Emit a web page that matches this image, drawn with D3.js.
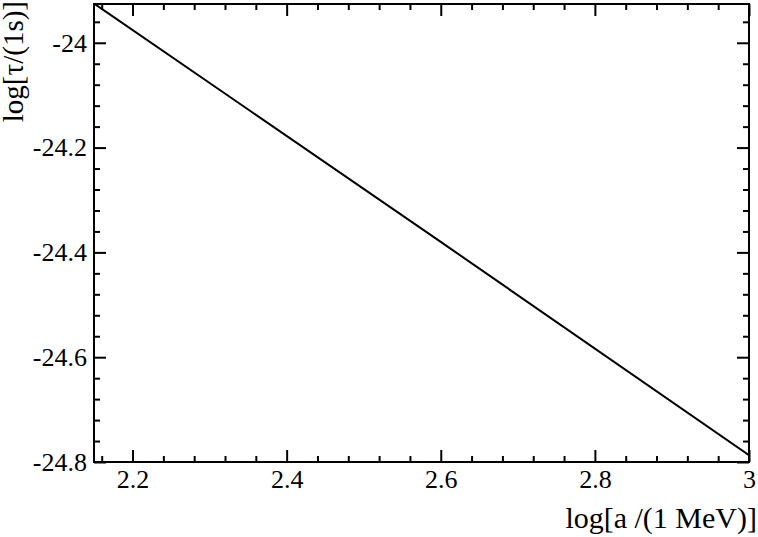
<!DOCTYPE html>
<html>
<head>
<meta charset="utf-8">
<script src="https://cdn.jsdelivr.net/npm/d3@7"></script>
<style>
  html, body { margin: 0; padding: 0; background: #fff; }
  svg { display: block; }
  text { font-family: "Liberation Serif", "Times New Roman", serif; fill: #000; }
</style>
</head>
<body>
<svg id="chart" width="758" height="537"></svg>
<script>
// Data
const xValues = [2.15, 2.6, 3.0];
const yValues = [-23.925, -24.38, -24.787];
const xMajorTicks = [2.2, 2.4, 2.6, 2.8, 3.0];
const xTickLabels = ["2.2", "2.4", "2.6", "2.8", "3"];
const yMajorTicks = [-24.8, -24.6, -24.4, -24.2, -24.0];
const yTickLabels = ["-24.8", "-24.6", "-24.4", "-24.2", "-24"];
const xMinorTicks = [2.16, 2.24, 2.28, 2.32, 2.36, 2.44, 2.48, 2.52, 2.56, 2.64, 2.68, 2.72, 2.76, 2.84, 2.88, 2.92, 2.96];
const yMinorTicks = [-24.76, -24.72, -24.68, -24.64, -24.56, -24.52, -24.48, -24.44, -24.36, -24.32, -24.28, -24.24, -24.16, -24.12, -24.08, -24.04, -23.96];
const xTitle = "log[a /(1 MeV)]";
const yTitle = "log[τ/(1s)]";

const W = 758, H = 537;
const margin = { left: 94, right: 9, top: 4, bottom: 75 };
const iw = W - margin.left - margin.right;
const ih = H - margin.top - margin.bottom;

const svg = d3.select("#chart");
const g = svg.append("g").attr("transform", `translate(${margin.left},${margin.top})`);

const xScale = d3.scaleLinear().domain([2.15, 3.0]).range([0, iw]);
const yScale = d3.scaleLinear().domain([-24.8, -23.926]).range([ih, 0]);

const majorLen = 12, minorLen = 6;

svg.append("defs").append("clipPath").attr("id", "clip")
  .append("rect").attr("width", iw).attr("height", ih);

// Bottom axis
g.append("g").attr("transform", `translate(0,${ih})`)
  .call(d3.axisBottom(xScale).tickValues(xMajorTicks)
    .tickFormat((d, i) => xTickLabels[i]).tickSizeInner(-majorLen).tickSizeOuter(0).tickPadding(8));
g.append("g").attr("transform", `translate(0,${ih})`)
  .call(d3.axisBottom(xScale).tickValues(xMinorTicks).tickFormat("").tickSizeInner(-minorLen).tickSizeOuter(0));
// Top axis
g.append("g")
  .call(d3.axisTop(xScale).tickValues(xMajorTicks).tickFormat("").tickSizeInner(-majorLen).tickSizeOuter(0));
g.append("g")
  .call(d3.axisTop(xScale).tickValues(xMinorTicks).tickFormat("").tickSizeInner(-minorLen).tickSizeOuter(0));
// Left axis
g.append("g")
  .call(d3.axisLeft(yScale).tickValues(yMajorTicks)
    .tickFormat((d, i) => yTickLabels[i]).tickSizeInner(-majorLen).tickSizeOuter(0).tickPadding(7));
g.append("g")
  .call(d3.axisLeft(yScale).tickValues(yMinorTicks).tickFormat("").tickSizeInner(-minorLen).tickSizeOuter(0));
// Right axis
g.append("g").attr("transform", `translate(${iw},0)`)
  .call(d3.axisRight(yScale).tickValues(yMajorTicks).tickFormat("").tickSizeInner(-majorLen).tickSizeOuter(0));
g.append("g").attr("transform", `translate(${iw},0)`)
  .call(d3.axisRight(yScale).tickValues(yMinorTicks).tickFormat("").tickSizeInner(-minorLen).tickSizeOuter(0));

g.selectAll(".domain").remove();
g.selectAll(".tick line").attr("stroke", "#000").attr("stroke-width", 2);
g.selectAll(".tick text")
  .style("font-family", "'Liberation Serif', 'Times New Roman', serif")
  .style("font-size", "26px").style("fill", "#000");

// Frame
g.append("rect").attr("x", 0).attr("y", 0).attr("width", iw).attr("height", ih)
  .attr("fill", "none").attr("stroke", "#000").attr("stroke-width", 2);

// Line
const lineGen = d3.line().x((d, i) => xScale(xValues[i])).y((d, i) => yScale(yValues[i]));
g.append("path").datum(xValues).attr("clip-path", "url(#clip)")
  .attr("d", lineGen).attr("fill", "none").attr("stroke", "#000").attr("stroke-width", 2);

// Axis titles
svg.append("text").attr("x", W - 1).attr("y", 528).attr("text-anchor", "end")
  .style("font-size", "30px").text(xTitle);
svg.append("text").attr("transform", "translate(23,1) rotate(-90)").attr("text-anchor", "end")
  .style("font-size", "29px").text(yTitle);
</script>
</body>
</html>
